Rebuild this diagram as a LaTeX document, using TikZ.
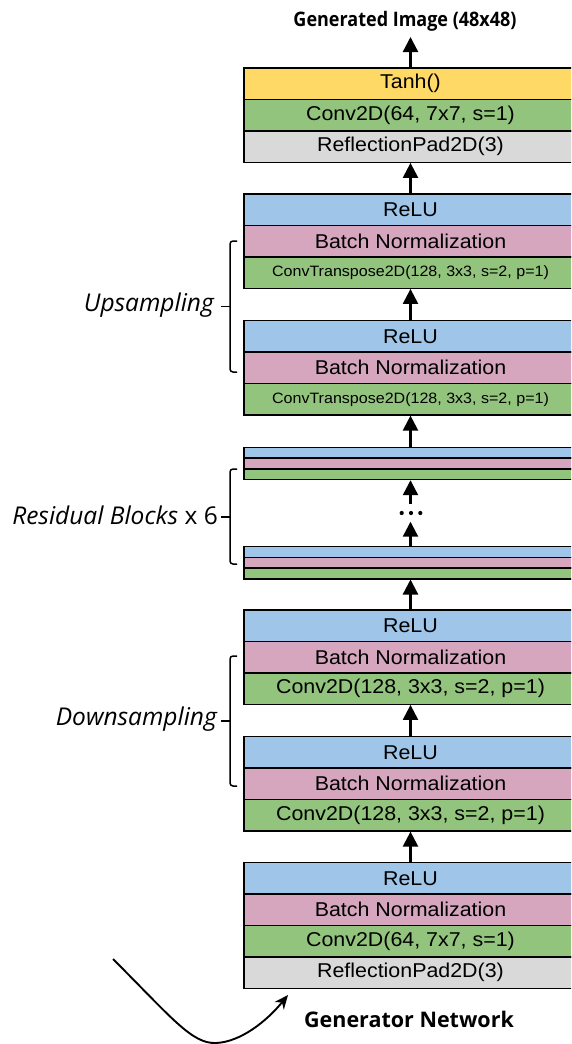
\documentclass[tikz,border=0pt]{standalone}
\usepackage{fontspec}
\usetikzlibrary{arrows.meta}
\newfontfamily\boxfont[FakeStretch=1.07]{Liberation Sans}
\newfontfamily\labfont{Open Sans}
\newfontfamily\titlefont[FakeStretch=0.9]{Open Sans}
\definecolor{cYellow}{HTML}{FFD966}
\definecolor{cGreen}{HTML}{93C47D}
\definecolor{cBlue}{HTML}{9FC5E8}
\definecolor{cPink}{HTML}{D5A6BD}
\definecolor{cGray}{HTML}{D9D9D9}
\begin{document}
\begin{tikzpicture}[x=1pt,y=-1pt,
  layer/.style={draw=black, line width=1.4pt, minimum width=333pt, minimum height=#1,
    inner sep=0pt, anchor=north, text=black, font=\boxfont\fontsize{20}{24}\selectfont},
  layer/.default=31.4pt,
  smalltext/.style={font=\boxfont\fontsize{15}{18}\selectfont},
  arr/.style={-{Triangle[length=15pt,width=15pt]}, line width=2.3pt},
  curvearr/.style={-{Stealth[length=14pt,width=12pt]}, line width=1.9pt},
  brace/.style={line width=1.5pt, rounded corners=3pt},
  title/.style={font=\titlefont\bfseries\fontsize{20}{24}\selectfont, inner sep=0pt},
  gentitle/.style={font=\labfont\bfseries\fontsize{21.5}{26}\selectfont, inner sep=0pt},
  lab/.style={font=\labfont\fontsize{24.5}{28}\selectfont, inner sep=0pt}
]
\useasboundingbox (0,0) rectangle (571,1044);
\clip (0,0) rectangle (571,1044);

% Block A (top)
\node[layer, fill=cYellow] (a1) at (410.5,67.3) {Tanh()};
\node[layer, fill=cGreen]  (a2) at (410.5,98.7) {Conv2D(64, 7x7, s=1)};
\node[layer, fill=cGray]   (a3) at (410.5,130.1) {ReflectionPad2D(3)};

% Block B (upsampling 2)
\node[layer, fill=cBlue]  (b1) at (410.5,193.3) {ReLU};
\node[layer, fill=cPink]  (b2) at (410.5,224.7) {Batch Normalization};
\node[layer, fill=cGreen, smalltext] (b3) at (410.5,256.1) {ConvTranspose2D(128, 3x3, s=2, p=1)};

% Block C (upsampling 1)
\node[layer, fill=cBlue]  (c1) at (410.5,320) {ReLU};
\node[layer, fill=cPink]  (c2) at (410.5,351.4) {Batch Normalization};
\node[layer, fill=cGreen, smalltext] (c3) at (410.5,382.8) {ConvTranspose2D(128, 3x3, s=2, p=1)};

% Residual blocks
\node[layer=10.7pt, fill=cBlue]  (r1) at (410.5,446.7) {};
\node[layer=10.7pt, fill=cPink]  (r2) at (410.5,457.4) {};
\node[layer=10.7pt, fill=cGreen] (r3) at (410.5,468.1) {};
\node[layer=10.7pt, fill=cBlue]  (s1) at (410.5,546) {};
\node[layer=10.7pt, fill=cPink]  (s2) at (410.5,556.7) {};
\node[layer=10.7pt, fill=cGreen] (s3) at (410.5,567.4) {};

% Block D (downsampling 2)
\node[layer, fill=cBlue]  (d1) at (410.5,609.3) {ReLU};
\node[layer, fill=cPink]  (d2) at (410.5,640.7) {Batch Normalization};
\node[layer, fill=cGreen] (d3) at (410.5,672.1) {Conv2D(128, 3x3, s=2, p=1)};

% Block E (downsampling 1)
\node[layer, fill=cBlue]  (e1) at (410.5,736) {ReLU};
\node[layer, fill=cPink]  (e2) at (410.5,767.4) {Batch Normalization};
\node[layer, fill=cGreen] (e3) at (410.5,798.8) {Conv2D(128, 3x3, s=2, p=1)};

% Block F (input)
\node[layer, fill=cBlue]  (f1) at (410.5,862) {ReLU};
\node[layer, fill=cPink]  (f2) at (410.5,893.4) {Batch Normalization};
\node[layer, fill=cGreen] (f3) at (410.5,924.8) {Conv2D(64, 7x7, s=1)};
\node[layer, fill=cGray]  (f4) at (410.5,956.2) {ReflectionPad2D(3)};

% titles
\node[title, anchor=base] (out) at (405,26) {Generated Image (48x48)};
\node[gentitle, anchor=base] (gen) at (409,1027.7) {Generator Network};

% arrows
\draw[arr] (a1.north) -- (a1.north |- 0,37);
\draw[arr] (b1.north) -- (a3.south);
\draw[arr] (c1.north) -- (b3.south);
\draw[arr] (r1.north) -- (c3.south);
\coordinate (dtop) at (410.5,504);
\coordinate (dbot) at (410.5,521.7);
\draw[arr] (dtop) -- (r3.south);
\draw[arr] (s1.north) -- (dbot);
\fill (401.7,513) circle (2.1pt) (411,513) circle (2.1pt) (420.3,513) circle (2.1pt);
\draw[arr] (d1.north) -- (s3.south);
\draw[arr] (e1.north) -- (d3.south);
\draw[arr] (f1.north) -- (e3.south);

% braces
\draw[brace] (237,241) -- (230,241) -- (230,372) -- (237,372);
\draw[line width=1.5pt] (230,306.5) -- (221,306.5);
\draw[brace] (237,469) -- (230,469) -- (230,564) -- (237,564);
\draw[line width=1.5pt] (230,517) -- (221,517);
\draw[brace] (237,656) -- (230,656) -- (230,786) -- (237,786);
\draw[line width=1.5pt] (230,721) -- (221,721);

% labels
\node[lab, anchor=base east] (up) at (214,311.7) {\itshape Upsampling};
\node[lab, anchor=base east] (res) at (218,524.3) {\textit{Residual Blocks} x 6};
\node[lab, anchor=base east] (down) at (217,725) {\itshape Downsampling};

% input curve
\coordinate (cs) at (113,959);
\coordinate (ce) at (288,995);
\draw[curvearr] (cs) .. controls (172,1018) and (192,1044) .. (216,1043) .. controls (240,1042) and (266,1022) .. (ce);
\end{tikzpicture}
\end{document}
